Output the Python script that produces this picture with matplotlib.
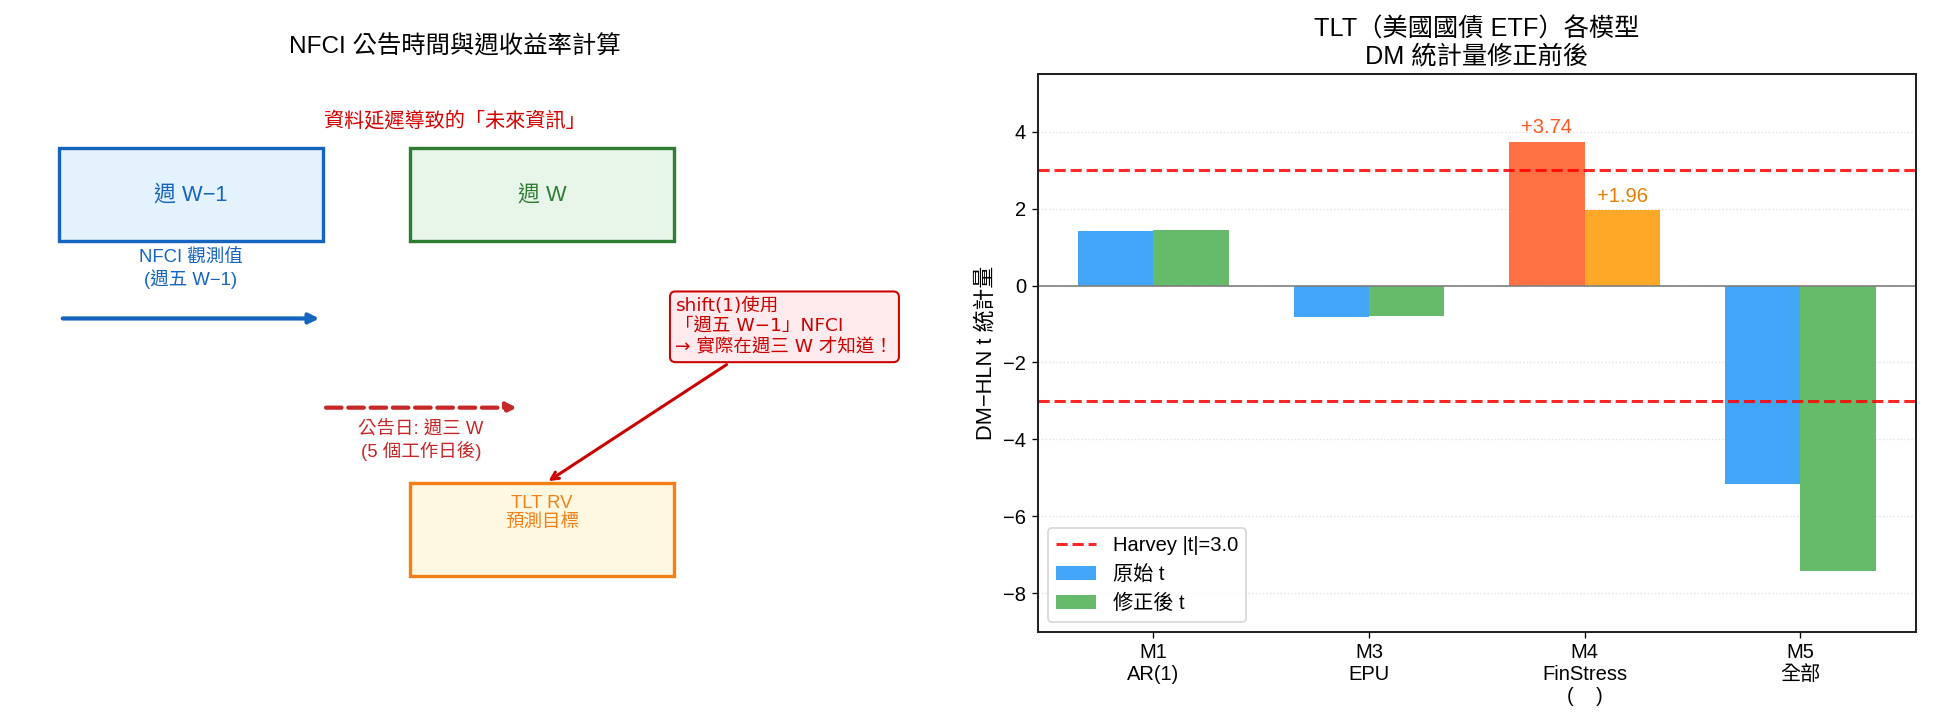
import numpy as np
import matplotlib
matplotlib.use('Agg')
import matplotlib.pyplot as plt
from matplotlib.patches import Rectangle

plt.rcParams['font.family'] = ['Liberation Sans', 'Noto Sans CJK TC', 'DejaVu Sans']
plt.rcParams['axes.unicode_minus'] = True

# data for the right panel
models = ['M1\nAR(1)', 'M3\nEPU', 'M4\nFinStress\n(    )', 'M5\n全部']
t_raw = [1.42, -0.82, 3.74, -5.17]
t_adj = [1.45, -0.79, 1.96, -7.42]
harvey = 3.0

fig, (ax1, ax2) = plt.subplots(1, 2, figsize=(1935 / 121, 726 / 121), dpi=121)
fig.subplots_adjust(left=0.008, right=0.990, top=0.898, bottom=0.130, wspace=0.165)

# ---- left panel: timeline diagram ----
ax1.set_xlim(0, 10)
ax1.set_ylim(0, 6)
ax1.axis('off')
ax1.set_title('NFCI 公告時間與週收益率計算', fontsize=14.5, pad=12)

ax1.text(5, 5.5, '資料延遲導致的「未來資訊」', color='#D50000', fontsize=12,
         ha='center', va='center')

ax1.add_patch(Rectangle((0.5, 4.2), 3, 1, facecolor='#E3F2FD', edgecolor='#1565C0', lw=2))
ax1.text(2, 4.7, '週 W−1', color='#1565C0', fontsize=13, ha='center', va='center')
ax1.add_patch(Rectangle((4.5, 4.2), 3, 1, facecolor='#E8F5E9', edgecolor='#2E7D32', lw=2))
ax1.text(6, 4.7, '週 W', color='#2E7D32', fontsize=13, ha='center', va='center')

ax1.text(2, 3.9, 'NFCI 觀測值\n(週五 W−1)', color='#1565C0', fontsize=11,
         ha='center', va='center')
ax1.annotate('', xy=(3.5, 3.37), xytext=(0.5, 3.37),
             arrowprops=dict(arrowstyle='-|>', color='#1565C0', lw=2.5, mutation_scale=12))

ax1.annotate('', xy=(5.75, 2.41), xytext=(3.5, 2.41),
             arrowprops=dict(arrowstyle='-|>', color='#C62828', lw=2.5, ls='--',
                             mutation_scale=12))
ax1.text(4.62, 2.05, '公告日: 週三 W\n(5 個工作日後)', color='#C62828', fontsize=11,
         ha='center', va='center')

ax1.add_patch(Rectangle((4.5, 0.6), 3, 1, facecolor='#FFF8E1', edgecolor='#F57F17', lw=2))
ax1.text(6, 1.27, 'TLT RV\n預測目標', color='#F57F17', fontsize=11, ha='center', va='center')

ax1.annotate('shift(1)使用\n「週五 W−1」NFCI\n→ 實際在週三 W 才知道！',
             xy=(6.04, 1.6), xytext=(7.52, 3.28), color='#CC0000', fontsize=11,
             family=['DejaVu Sans', 'Noto Sans CJK TC'],
             ha='left', va='center', annotation_clip=False,
             bbox=dict(boxstyle='round,pad=0.3', facecolor='#FFEBEE', edgecolor='#CC0000', lw=1.2),
             arrowprops=dict(arrowstyle='->', color='#CC0000', lw=1.8))

# ---- right panel: DM statistics ----
x = np.arange(len(models))
w = 0.35
raw_colors = ['#42A5F5'] * len(models)
adj_colors = ['#66BB6A'] * len(models)
raw_colors[2] = '#FF7043'
adj_colors[2] = '#FFA726'

ax2.bar(x - w / 2, t_raw, w, color=raw_colors, label='原始 t')
ax2.bar(x + w / 2, t_adj, w, color=adj_colors, label='修正後 t')
ax2.axhline(harvey, color='red', ls='--', lw=1.8, alpha=0.85, label=f'Harvey |t|={harvey}')
ax2.axhline(-harvey, color='red', ls='--', lw=1.8, alpha=0.85)
ax2.axhline(0, color='grey', lw=1)

ax2.text(x[2] - w / 2, t_raw[2] + 0.12, f'+{t_raw[2]:.2f}', color='#FF5722',
         fontsize=12, ha='center', va='bottom')
ax2.text(x[2] + w / 2, t_adj[2] + 0.12, f'+{t_adj[2]:.2f}', color='#E67E00',
         fontsize=12, ha='center', va='bottom')

ax2.set_xticks(x)
ax2.set_xticklabels(models, fontsize=12)
ax2.tick_params(axis='y', labelsize=12)
ax2.set_ylim(-9.0, 5.5)
ax2.set_ylabel('DM−HLN t 統計量', fontsize=13)
ax2.set_title('TLT（美國國債 ETF）各模型\nDM 統計量修正前後', fontsize=15)
ax2.grid(axis='y', ls=':', alpha=0.4)
ax2.set_axisbelow(True)
for sp in ax2.spines.values():
    sp.set_color('#222222')
    sp.set_linewidth(1.2)

ax2.legend(loc='lower left', fontsize=12)

plt.savefig('out.png', dpi=121)
